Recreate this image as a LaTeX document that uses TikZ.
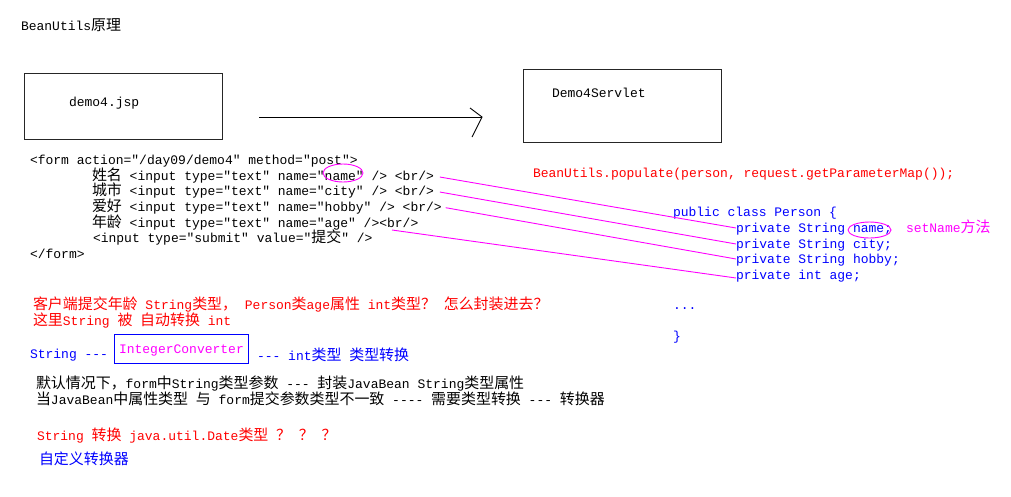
\documentclass[tikz,border=0pt]{standalone}
\usepackage{fontspec}
\setmonofont{Liberation Mono}
\newfontfamily\cjkfont{Noto Sans CJK SC}[Scale=1.15]
\newcommand\zh[1]{{\cjkfont #1}}
\usetikzlibrary{calc}
\definecolor{mag}{RGB}{255,0,255}
\definecolor{rd}{RGB}{255,0,0}
\definecolor{bl}{RGB}{0,0,255}
\begin{document}
\begin{tikzpicture}[x=1pt,y=-1pt,
  txt/.style={anchor=west, inner sep=0pt, outer sep=0pt, text height=11pt, text depth=2pt,
    font=\ttfamily\fontsize{13}{15}\selectfont},
  frame/.style={draw=black!85, line width=1pt, inner sep=0pt, outer sep=0pt, anchor=north west},
  link/.style={draw=mag, line width=0.9pt},
  hilite/.style={draw=mag, line width=0.9pt},
]
\useasboundingbox[fill=white] (0,0) rectangle (1011,496);

\node[txt] (title) at (21,26) {BeanUtils\zh{原理}};

% boxes and arrow
\node[frame, minimum width=198pt, minimum height=66pt] (jsp) at (24,73) {};
\node[txt] (jsptxt) at (69,102) {demo4.jsp};
\node[frame, minimum width=198pt, minimum height=73pt] (servlet) at (523,69) {};
\node[txt] (servtxt) at (552,93) {Demo4Servlet};
\coordinate (a0) at (259,117);
\coordinate (a1) at (482,117);
\draw[line width=0.9pt] (a0) -- (a1);
\draw[line width=0.9pt] (a1) ++(-12,-9) -- (a1) -- ++(-10,20);

% form
\node[txt] (f0) at (30,160) {<form action="/day09/demo4" method="post">};
\node[txt] (f1) at (92,176) {\zh{姓名} <input type="text" name="name" /> <br/>};
\node[txt] (f2) at (92,191) {\zh{城市} <input type="text" name="city" /> <br/>};
\node[txt] (f3) at (92,207) {\zh{爱好} <input type="text" name="hobby" /> <br/>};
\node[txt] (f4) at (92,223) {\zh{年龄} <input type="text" name="age" /><br/>};
\node[txt] (f5) at (93,238) {<input type="submit" value="\zh{提交}" />};
\node[txt] (f6) at (30,254) {</form>};
\draw[hilite] (343,173) ellipse [x radius=20, y radius=9];

% right side
\node[txt, text=rd] (populate) at (533,173) {BeanUtils.populate(person, request.getParameterMap());};
\node[txt, text=bl] (pc) at (673,212) {public class Person \{};
\node[txt, text=bl] (p1) at (736,228) {private String name;};
\node[txt, text=bl] (p2) at (736,244) {private String city;};
\node[txt, text=bl] (p3) at (736,259) {private String hobby;};
\node[txt, text=bl] (p4) at (736,275) {private int age;};
\draw[hilite] (869.5,230) ellipse [x radius=21.5, y radius=8];
\node[txt, text=mag] (setname) at (906,228) {setName\zh{方法}};
\node[txt, text=bl] (dots) at (673,305) {...};
\node[txt, text=bl] (brace) at (673,336) {\}};

% connectors
\draw[link, shorten <=6pt] (f1.east) -- (p1.west);
\draw[link, shorten <=6pt] (f2.east) -- (p2.west);
\draw[link, shorten <=4pt] (f3.east) -- (p3.west);
\coordinate (s4) at (392,230);
\draw[link] (s4) -- ($(p4.west)+(0,3)$);

% bottom notes
\node[txt, text=rd] (r1) at (33,305) {\zh{客户端提交年龄} String\zh{类型，} Person\zh{类}age\zh{属性} int\zh{类型？} \zh{怎么封装进去？}};
\node[txt, text=rd] (r2) at (33,321) {\zh{这里}String \zh{被} \zh{自动转换} int};
\node[txt, text=bl] (s1) at (30,354) {String ---};
\node[txt, draw=bl, line width=1pt, inner xsep=5pt, inner ysep=8pt, text=mag] (ic) at (114,349) {IntegerConverter};
\node[txt, text=bl] (s2) at (257,356) {--- int\zh{类型} \zh{类型转换}};
\node[txt] (b1) at (36,384) {\zh{默认情况下，}form\zh{中}String\zh{类型参数} --- \zh{封装}JavaBean String\zh{类型属性}};
\node[txt] (b2) at (36,400) {\zh{当}JavaBean\zh{中属性类型} \zh{与} form\zh{提交参数类型不一致} ---- \zh{需要类型转换} --- \zh{转换器}};
\node[txt, text=rd] (d1) at (37,436) {String \zh{转换} java.util.Date\zh{类型} \zh{？} \zh{？} \zh{？}};
\node[txt, text=bl] (d2) at (39,460) {\zh{自定义转换器}};
\end{tikzpicture}
\end{document}
